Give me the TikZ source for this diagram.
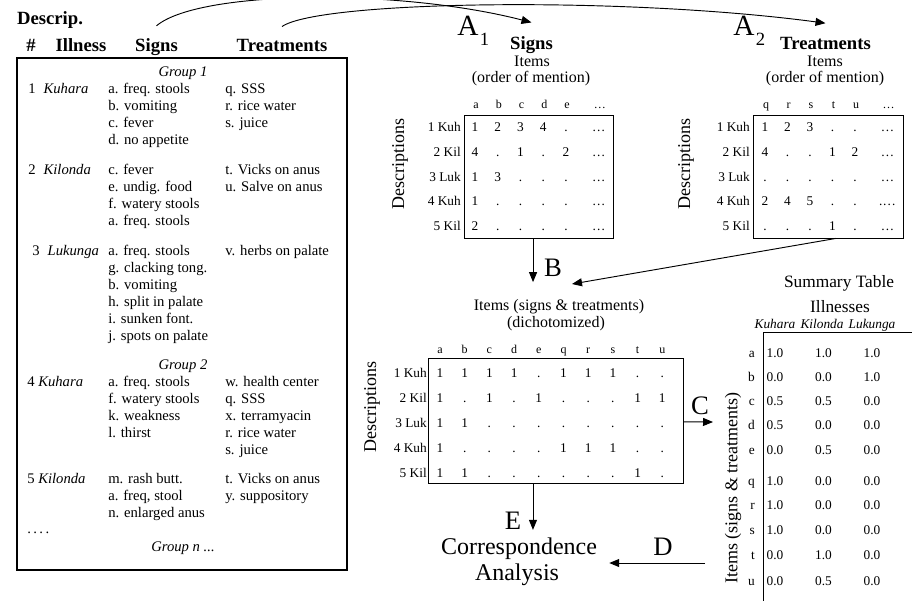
\documentclass[tikz,border=0pt]{standalone}
\usepackage{fontspec}
\setmainfont{Liberation Serif}
\usetikzlibrary{arrows.meta}

\newcommand{\bigA}[1]{{\fontsize{22}{22}\selectfont A}\hspace{1pt}\raisebox{-7.5pt}{\fontsize{14}{14}\selectfont #1}}

\begin{document}
\begin{tikzpicture}[
x=0.75pt, y=-0.75pt,
every node/.style={inner sep=0pt},
txt/.style={anchor=base west, font=\fontsize{11}{13}\selectfont},
grp/.style={anchor=base, font=\fontsize{11}{13}\selectfont\itshape},
hd/.style={anchor=base, font=\fontsize{14}{16}\selectfont\bfseries},
itm/.style={font=\fontsize{12}{14}\selectfont},
axislab/.style={rotate=90, font=\fontsize{13.5}{15}\selectfont},
cell/.style={anchor=base, font=\fontsize{10}{12}\selectfont},
rowlab/.style={anchor=base east, font=\fontsize{10}{12}\selectfont},
collab/.style={anchor=base, font=\fontsize{9}{11}\selectfont},
bigl/.style={font=\fontsize{20}{22}\selectfont},
tbox/.style={draw, line width=0.6pt},
arr/.style={line width=0.7pt, -{Triangle[length=7.5pt,width=6pt]}}
]
\useasboundingbox (0,0) rectangle (912,601);

% left panel: the descriptions
\node[font=\fontsize{14}{16}\selectfont\bfseries] (desc) at (50,20) {Descrip.};
\node[hd] (hnum) at (31,51) {\#};
\node[hd] (hill) at (81,51) {Illness};
\node[hd] (hsig) at (156.5,51) {Signs};
\node[hd] (htr) at (282,51) {Treatments};
\draw[line width=0.8pt] (17,58) rectangle (347,570);

\node[grp] (g1) at (183,76) {Group 1};
\node[grp] (g2) at (183,369) {Group 2};
\node[grp] (gn) at (183,551) {Group n ...};
\node[txt] (more) at (27,533) {.\,.\,.\,.};

\foreach \ill/\ix/\y/\sg/\tr [count=\k] in {
  {1\hspace{6pt}\textit{Kuhara}}/28/93/{a. freq. stools, b. vomiting, c. fever, d. no appetite}/{q. SSS, r. rice water, s. juice},
  {2\hspace{6pt}\textit{Kilonda}}/28/174/{c. fever, e. undig. food, f. watery stools, a. freq. stools}/{t. Vicks on anus, u. Salve on anus},
  {3\hspace{6pt}\textit{Lukunga}}/32/255/{a. freq. stools, g. clacking tong., b. vomiting, h. split in palate, i. sunken font., j. spots on palate}/{v. herbs on palate},
  {4 \textit{Kuhara}}/27/386/{a. freq. stools, f. watery stools, k. weakness, l. thirst}/{w. health center, q. SSS, x. terramyacin, r. rice water, s. juice},
  {5 \textit{Kilonda}}/27/483/{m. rash butt., {a. freq, stool}, n. enlarged anus}/{t. Vicks on anus, y. suppository}}{
  \node[txt] (ill\k) at (\ix,\y) {\ill};
  \foreach \s [count=\j from 0] in \sg
    \node[txt] (sg\k-\j) at (108,\y+17*\j) {\s};
  \foreach \t [count=\j from 0] in \tr
    \node[txt] (tr\k-\j) at (225,\y+17*\j) {\t};
}

% A1: signs by order of mention
\node[anchor=base west] (a1) at (457,35) {\bigA{1}};
\node[hd] (tsig) at (531.5,49) {Signs};
\node[itm] (it1) at (532,61) {Items};
\node[itm] (om1) at (531,79) {(order of mention)};
\node[tbox, minimum width=111.75pt, minimum height=92.25pt] (m1) at (538.5,176.5) {};
\node[axislab] (de1) at (400,164) {Descriptions};
\foreach \c [count=\j from 0] in {a,b,c,d,e,\ldots}
  \node[collab] (ca\j) at ({476+22.75*\j+10*(\j==5)},108) {\c};
\foreach \lab/\vals [count=\i from 0] in {1 Kuh/{1,2,3,4,.,\ldots}, 2 Kil/{4,.,1,.,2,\ldots},
    3 Luk/{1,3,.,.,.,\ldots}, 4 Kuh/{1,.,.,.,.,\ldots}, 5 Kil/{2,.,.,.,.,\ldots}}{
  \node[rowlab] (ra\i) at (461,131.5+24.75*\i) {\lab};
  \foreach \v [count=\j from 0] in \vals
    \node[cell] (a\i-\j) at ({475+22.75*\j+10*(\j==5)},131.5+24.75*\i) {\v};
}

% A2: treatments by order of mention
\node[anchor=base west] (a2) at (733,35) {\bigA{2}};
\node[hd] (ttr) at (825.5,49) {Treatments};
\node[itm] (it2) at (825,61) {Items};
\node[itm] (om2) at (825,79) {(order of mention)};
\node[tbox, minimum width=112.5pt, minimum height=92.25pt] (m2) at (828,176.5) {};
\node[axislab] (de2) at (686,164) {Descriptions};
\foreach \c [count=\j from 0] in {q,r,s,t,u,\ldots}
  \node[collab] (cb\j) at ({766+22.5*\j+10*(\j==5)},108) {\c};
\foreach \lab/\vals [count=\i from 0] in {1 Kuh/{1,2,3,.,.,\ldots}, 2 Kil/{4,.,.,1,2,\ldots},
    3 Luk/{.,.,.,.,.,\ldots}, 4 Kuh/{2,4,5,.,.,.\ldots}, 5 Kil/{.,.,.,1,.,\ldots}}{
  \node[rowlab] (rb\i) at (750,131.5+24.75*\i) {\lab};
  \foreach \v [count=\j from 0] in \vals
    \node[cell] (b\i-\j) at ({765+22.5*\j+10*(\j==5)},131.5+24.75*\i) {\v};
}

% top arrows
\draw[arr] ([yshift=9pt]hsig.north) .. controls +(43,-36) and +(-132,-34) .. ([yshift=10pt]tsig.north);
\draw[arr] ([yshift=9pt]htr.north) .. controls +(38,-26) and +(-202,-27) .. ([yshift=10pt]ttr.north);

% B: dichotomized table
\node[itm] (m3t) at (559,307) {Items (signs \& treatments)};
\node[itm] (m3d) at (556,324) {(dichotomized)};
\node[tbox, minimum width=191.25pt, minimum height=93.75pt] (m3) at (555.5,420.5) {};
\node[axislab] (de3) at (372,407) {Descriptions};
\foreach \c [count=\j from 0] in {a,b,c,d,e,q,r,s,t,u}
  \node[collab] (cc\j) at (440+24.7*\j,353) {\c};
\foreach \lab/\vals [count=\i from 0] in {1 Kuh/{1,1,1,1,.,1,1,1,.,.}, 2 Kil/{1,.,1,.,1,.,.,.,1,1},
    3 Luk/{1,1,.,.,.,.,.,.,.,.}, 4 Kuh/{1,.,.,.,.,1,1,1,.,.}, 5 Kil/{1,1,.,.,.,.,.,.,1,.}}{
  \node[rowlab] (rc\i) at (427,377.5+25*\i) {\lab};
  \foreach \v [count=\j from 0] in \vals
    \node[cell] (c\i-\j) at (440+24.7*\j,377.5+25*\i) {\v};
}
\node[bigl] (lb) at (553,268) {B};
\draw[arr, shorten >=13pt] ([xshift=-4.1pt]m1.south) -- ([xshift=-4.1pt]m1.south |- m3t.north);
\coordinate (ttip) at (572,284);
\draw[arr] ([xshift=6pt]m2.south) -- (ttip);

% C: summary table
\node[font=\fontsize{13}{15}\selectfont] (sumt) at (839,283) {Summary Table};
\node[font=\fontsize{13}{15}\selectfont] (sill) at (840,307) {Illnesses};
\foreach \n/\ix in {Kuhara/775, Kilonda/822, Lukunga/872}
  \node[anchor=base, font=\fontsize{10}{12}\selectfont\itshape] (s\n) at (\ix,328) {\n};
\draw[line width=0.6pt] (912,332) -- (763,332) -- (763,601);
\node[axislab] (sax) at (733,488) {Items (signs \& treatments)};
\foreach \lab/\y/\vals in {a/353/{1.0,1.0,1.0}, b/377/{0.0,0.0,1.0}, c/401/{0.5,0.5,0.0},
    d/425/{0.5,0.0,0.0}, e/450/{0.0,0.5,0.0}, q/481/{1.0,0.0,0.0}, r/505/{1.0,0.0,0.0},
    s/530/{1.0,0.0,0.0}, t/555/{0.0,1.0,0.0}, u/581/{0.0,0.5,0.0}}{
  \node[rowlab] (sr\lab) at (755,\y+4.5) {\lab};
  \foreach \v [count=\j from 0] in \vals
    \node[cell] (sv\lab-\j) at (775+48.5*\j,\y+4.5) {\v};
}
\node[bigl] (lc) at (700,406) {C};
\coordinate (ctip) at (713,422);
\draw[arr] ([yshift=-1pt]m3.east) -- (ctip);

% D, E: correspondence analysis
\node[font=\fontsize{18}{20}\selectfont] (corr) at (519,549) {Correspondence};
\node[font=\fontsize{18}{20}\selectfont] (anal) at (517,575) {Analysis};
\node[bigl] (le) at (513,521) {E};
\draw[arr, shorten >=6pt] ([xshift=-16.9pt]m3.south) -- ([xshift=-16.9pt]m3.south |- corr.north);
\node[bigl] (ld) at (663,547) {D};
\coordinate (dfrom) at (705,563);
\draw[arr, shorten >=9pt] (dfrom) -- (dfrom -| corr.east);
\end{tikzpicture}
\end{document}
